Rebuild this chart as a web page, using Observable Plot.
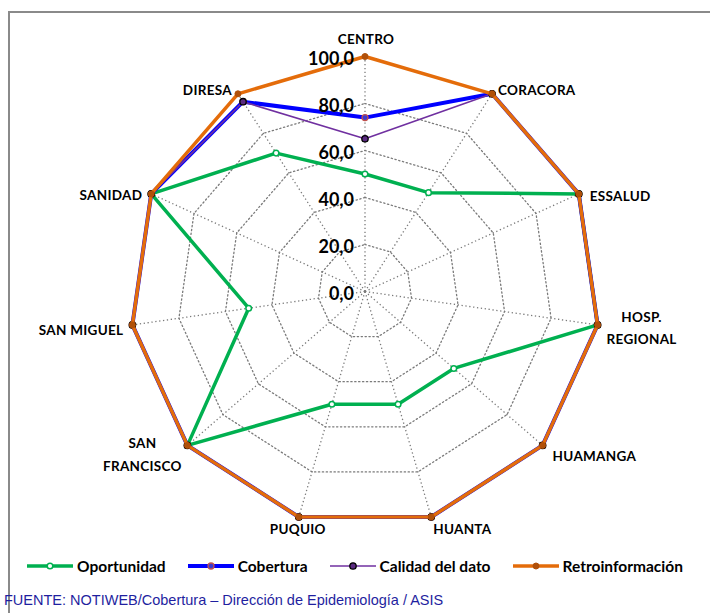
<!DOCTYPE html>
<html>
<head>
<meta charset="utf-8">
<script src="https://cdn.jsdelivr.net/npm/d3@7"></script>
<script src="https://cdn.jsdelivr.net/npm/@observablehq/plot@0.6"></script>
<style>
  html, body { margin: 0; padding: 0; background: #fff; }
  body { width: 710px; height: 613px; position: relative; overflow: hidden; font-family: Lato, "Open Sans", sans-serif; }
  #frame { position: absolute; left: 8px; top: 11px; width: 710px; height: 610px; border-top: 2px solid #8a8a8a; border-left: 2px solid #8a8a8a; }
  #chart { position: absolute; left: 0; top: 0; }
  #legend { position: absolute; left: 0; top: 557px; width: 710px; display: flex; justify-content: center; gap: 22px; font: bold 15.5px Lato, sans-serif; color: #000; }
  #legend .item { display: flex; align-items: center; gap: 4px; }
  #caption { position: absolute; left: 4px; top: 592px; font: 14.5px "Liberation Sans", Arial, sans-serif; color: #1f1fa0; white-space: nowrap; }
  .catlabel text { letter-spacing: 0.3px; }
</style>
</head>
<body>
<div id="frame"></div>
<div id="chart"></div>
<div id="legend"></div>
<div id="caption">FUENTE: NOTIWEB/Cobertura – Dirección de Epidemiología  / ASIS</div>
<script>
// ---- data ----
const categories = ["CENTRO", "CORACORA", "ESSALUD", "HOSP.\nREGIONAL", "HUAMANGA", "HUANTA", "PUQUIO", "SAN\nFRANCISCO", "SAN MIGUEL", "SANIDAD", "DIRESA"];
const oportunidad     = [50, 50, 100, 100, 50, 50, 50, 100, 50, 100, 70];
const cobertura       = [74, 100, 100, 100, 100, 100, 100, 100, 100, 100, 96];
const calidad         = [65, 100, 100, 100, 100, 100, 100, 100, 100, 100, 96];
const retroinformacion = [100, 100, 100, 100, 100, 100, 100, 100, 100, 100, 100];
const ticks = [0, 20, 40, 60, 80, 100];
const tickLabels = ["0,0", "20,0", "40,0", "60,0", "80,0", "100,0"];
const seriesNames = ["Oportunidad", "Cobertura", "Calidad del dato", "Retroinformación"];

// ---- layout / style ----
const cx = 364.5, cy = 291, R = 235;
const n = categories.length;
const ang = i => i * 2 * Math.PI / n;
const px = (v, i) => v / 100 * Math.sin(ang(i));
const py = (v, i) => v / 100 * Math.cos(ang(i));
const labelLayout = [
  {anchor: "middle", dx: 1, dy: -20},
  {anchor: "start", dx: 6, dy: -6},
  {anchor: "start", dx: 11, dy: 0},
  {anchor: "middle", dx: 44, dy: 1},
  {anchor: "start", dx: 10, dy: 8},
  {anchor: "start", dx: 2, dy: 10},
  {anchor: "middle", dx: -1, dy: 10},
  {anchor: "middle", dx: -45, dy: 7},
  {anchor: "end", dx: -9, dy: 3},
  {anchor: "end", dx: -9, dy: -1},
  {anchor: "end", dx: -6, dy: -6}
];
const styles = [
  {color: "#00b050", width: 3.5, r: 2.8, fill: "#ffffff", mstroke: "#00b050", mw: 1.5},
  {color: "#0000ff", width: 4, r: 3, fill: "#3a3ad0", mstroke: "#c0504d", mw: 1.3},
  {color: "#7030a0", width: 1.6, r: 3.2, fill: "#5a2a80", mstroke: "#000000", mw: 1.3},
  {color: "#e46c0a", width: 3.5, r: 3, fill: "#b0500a", mstroke: "#b0500a", mw: 1}
];
const seriesValues = [oportunidad, cobertura, calidad, retroinformacion];

const rows = seriesValues.map((vals, s) => vals.map((v, i) => ({s, i, v})));
const ringRows = ticks.filter(t => t > 0).flatMap(t => categories.map((c, i) => ({t, i})));

const marks = [];
// grid rings
marks.push(Plot.line(ringRows, {
  x: d => px(d.t, d.i), y: d => py(d.t, d.i), z: "t", curve: "linear-closed",
  stroke: "#7a7a7a", strokeWidth: 1.3, strokeDasharray: "1.3,2.6"
}));
// spokes
marks.push(Plot.link(categories, {
  x1: 0, y1: 0, x2: (d, i) => px(100, i), y2: (d, i) => py(100, i),
  stroke: "#7a7a7a", strokeWidth: 1.3, strokeDasharray: "1.3,2.6"
}));
// series lines + markers
rows.forEach((data, s) => {
  const st = styles[s];
  marks.push(Plot.line(data, {
    x: d => px(d.v, d.i), y: d => py(d.v, d.i), curve: "linear-closed",
    stroke: st.color, strokeWidth: st.width, strokeLinejoin: "miter"
  }));
  marks.push(Plot.dot(data, {
    x: d => px(d.v, d.i), y: d => py(d.v, d.i), r: st.r,
    fill: st.fill, stroke: st.mstroke, strokeWidth: st.mw
  }));
});
// category labels
categories.forEach((c, i) => {
  const L = labelLayout[i];
  marks.push(Plot.text([c], {
    x: () => px(100, i), y: () => py(100, i), text: d => d,
    textAnchor: L.anchor, dx: L.dx, dy: L.dy, lineHeight: 1.65,
    fontSize: 13.5, fontWeight: "bold", fill: "#000", className: "catlabel"
  }));
});
// value labels
marks.push(Plot.text(ticks, {
  x: 0, y: t => t / 100, text: (t, i) => tickLabels[i],
  textAnchor: "end", dx: -11, dy: 3, fontSize: 18, fontWeight: "bold", fill: "#000"
}));

const chart = Plot.plot({
  width: 710, height: 550,
  margin: 0,
  style: {background: "transparent", fontFamily: "Lato, 'Open Sans', sans-serif", overflow: "visible"},
  x: {type: "linear", domain: [-1, 1], range: [cx - R, cx + R], axis: null},
  y: {type: "linear", domain: [-1, 1], range: [cy + R, cy - R], axis: null},
  marks
});
document.getElementById("chart").appendChild(chart);

// legend
const legend = document.getElementById("legend");
seriesNames.forEach((name, s) => {
  const st = styles[s];
  const item = document.createElement("div");
  item.className = "item";
  item.innerHTML = `<svg width="46" height="12"><line x1="0" y1="6" x2="46" y2="6" stroke="${st.color}" stroke-width="${st.width}"/><circle cx="23" cy="6" r="${st.r}" fill="${st.fill}" stroke="${st.mstroke}" stroke-width="${st.mw}"/></svg><span>${name}</span>`;
  legend.appendChild(item);
});
</script>
</body>
</html>
